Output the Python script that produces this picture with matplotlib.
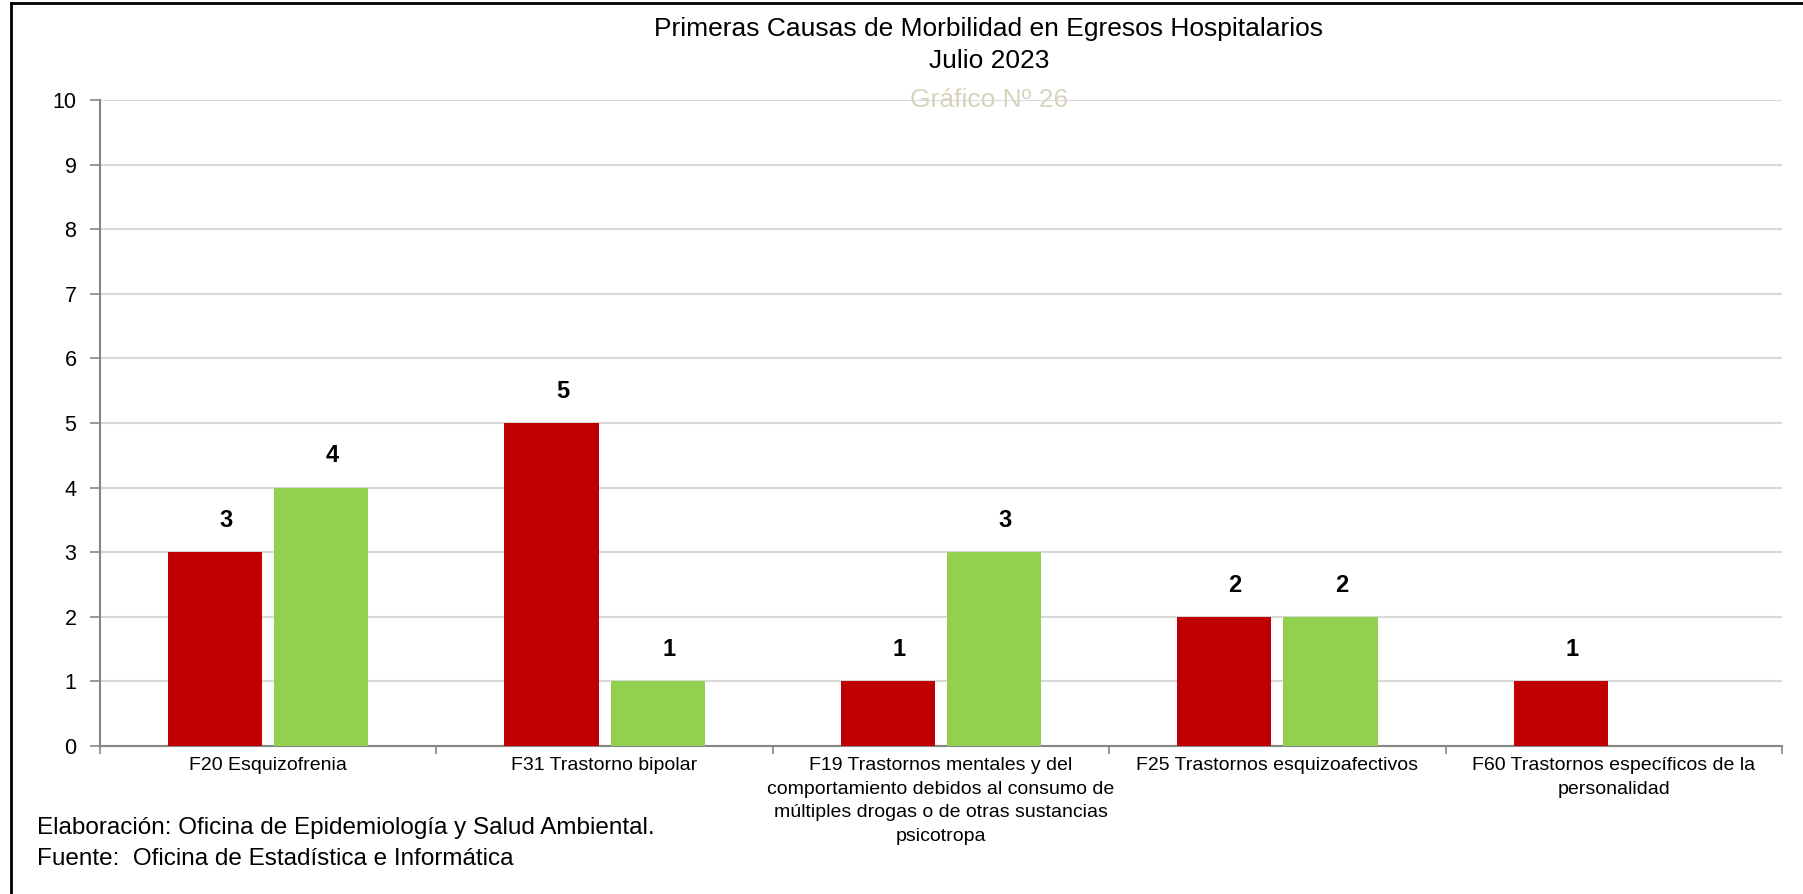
import matplotlib
matplotlib.use("Agg")
import matplotlib.pyplot as plt
import matplotlib.transforms as mtransforms
from matplotlib.lines import Line2D
import numpy as np

plt.rcParams['font.family'] = ['Liberation Sans', 'DejaVu Sans']

# Data
categorias = [
    "F20 Esquizofrenia",
    "F31 Trastorno bipolar",
    "F19 Trastornos mentales y del\ncomportamiento debidos al consumo de\nmúltiples drogas o de otras sustancias\npsicotropa",
    "F25 Trastornos esquizoafectivos",
    "F60 Trastornos específicos de la\npersonalidad",
]
serie_roja = [3, 5, 1, 2, 1]
serie_verde = [4, 1, 3, 2, 0]
y_ticks = list(range(0, 11))

W, H = 1803, 894
fig = plt.figure(figsize=(W / 100, H / 100), dpi=100)

# Axes placed in pixel terms
left, right, top, bottom = 100, 1782, 100, 746
ax = fig.add_axes([left / W, 1 - bottom / H, (right - left) / W, (bottom - top) / H])

x = np.arange(len(categorias))
ancho = 0.28
off = 0.158
b1 = ax.bar(x - off, serie_roja, ancho, color='#C00000', zorder=3)
b2 = ax.bar(x + off, serie_verde, ancho, color='#92D050', zorder=3)

# value labels sit slightly right of the bar centre, like the original
shift = mtransforms.offset_copy(ax.transData, fig=fig, x=11, y=0, units='dots')
for rect, v in list(zip(b1, serie_roja)) + list(zip(b2, serie_verde)):
    if v:
        ax.text(rect.get_x() + rect.get_width() / 2, v + 0.49, str(v), transform=shift,
                ha='center', va='center', fontsize=17, fontweight='bold')

ax.set_xlim(-0.5, len(categorias) - 0.5)
ax.set_ylim(0, 10)
ax.set_yticks(y_ticks)
ax.yaxis.grid(True, color='#D9D9D9', linewidth=1.5, zorder=0)
ax.set_axisbelow(True)

ax.set_xticks(x)
ax.set_xticklabels(categorias, fontsize=14, linespacing=1.5, va='top')
ax.set_xticks(np.arange(-0.5, len(categorias)), minor=True)
ax.tick_params(axis='x', which='major', length=0, pad=8)
ax.tick_params(axis='x', which='minor', length=6, color='#868686', width=1.2)
ax.tick_params(axis='y', length=7, color='#868686', width=1.2, labelsize=15.5, pad=10)

for s in ['top', 'right']:
    ax.spines[s].set_visible(False)
for s in ['left', 'bottom']:
    ax.spines[s].set_color('#868686')
    ax.spines[s].set_linewidth(1.5)

# Titles
fig.text(989 / W, 1 - 29 / H, "Primeras Causas de Morbilidad en Egresos Hospitalarios",
         ha='center', va='center', fontsize=19)
fig.text(989 / W, 1 - 61 / H, "Julio 2023", ha='center', va='center', fontsize=19)
fig.text(989 / W, 1 - 100 / H, "Gráfico Nº 26", ha='center', va='center',
         fontsize=19, color='#D8D3BC')

# Footer
fig.text(37 / W, 1 - 834 / H, "Elaboración: Oficina de Epidemiología y Salud Ambiental.",
         ha='left', va='baseline', fontsize=17.5)
fig.text(37 / W, 1 - 865 / H, "Fuente:  Oficina de Estadística e Informática",
         ha='left', va='baseline', fontsize=17.5)

# Outer frame
fig.add_artist(Line2D([11 / W, 11 / W], [0, 1 - 3 / H], color='black', linewidth=2))
fig.add_artist(Line2D([11 / W, 1], [1 - 3 / H, 1 - 3 / H], color='black', linewidth=2))

fig.savefig('out.png', dpi=100)
